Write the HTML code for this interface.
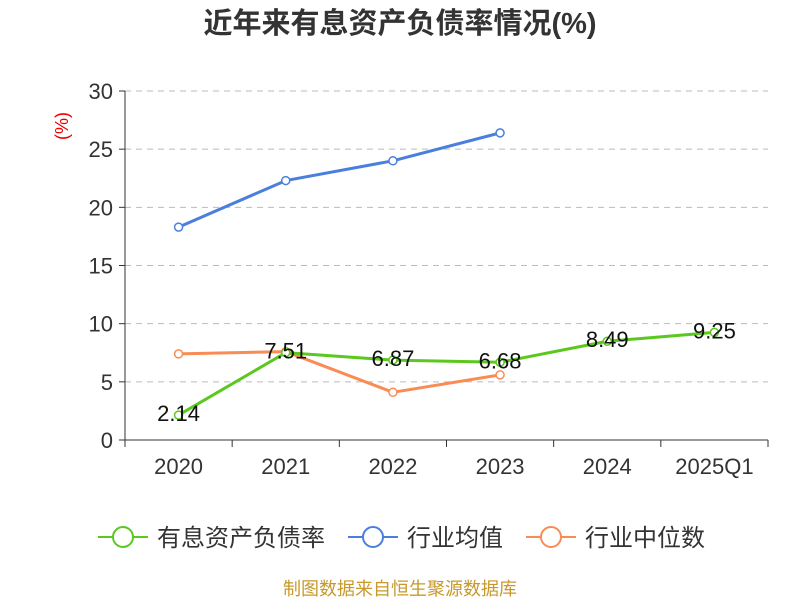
<!DOCTYPE html>
<html><head><meta charset="utf-8"><style>
body{margin:0;background:#fff;}
svg text{font-family:"Liberation Sans","Noto Sans CJK SC",sans-serif;}
</style></head><body>
<svg id="c" width="800" height="600"></svg>
<script>
const categories=["2020","2021","2022","2023","2024","2025Q1"];
const companyVals=[2.14,7.51,6.87,6.68,8.49,9.25];
const avgVals=[18.3,22.3,24.0,26.4];
const medianVals=[7.4,7.6,4.1,5.6];
const yTicks=[0,5,10,15,20,25,30];
const svg=document.getElementById('c');
const NS='http://www.w3.org/2000/svg';
const L=125,R=768,T=91,B=440,yMax=30;
const bw=(R-L)/categories.length;
const xs=i=>L+bw*(i+0.5);
const ys=v=>B-(v/yMax)*(B-T);
function mk(tag,attrs,parent){const e=document.createElementNS(NS,tag);for(const k in attrs)e.setAttribute(k,attrs[k]);(parent||svg).appendChild(e);return e;}
let t=mk('text',{x:400,y:33,'text-anchor':'middle','font-size':29,'font-weight':'bold',fill:'#333'});t.textContent='近年来有息资产负债率情况(%)';


t=mk('text',{x:68,y:126,'text-anchor':'middle','font-size':18,fill:'#e00',transform:'rotate(-90 68 126)'});t.textContent='(%)';


yTicks.forEach(v=>{
  const y=ys(v);
  if(v>0){const g=mk('line',{x1:L,x2:R,y1:y,y2:y,stroke:'#bbb','stroke-dasharray':'6,5'});
  
  }
  mk('line',{x1:L-6,x2:L,y1:y,y2:y,stroke:'#333'});
  const tx=mk('text',{x:L-12,y:y+8,'text-anchor':'end','font-size':22,fill:'#333'});tx.textContent=v;
  
  
});
mk('line',{x1:L,x2:L,y1:T,y2:B,stroke:'#333'});
mk('line',{x1:L,x2:R,y1:B,y2:B,stroke:'#333'});
for(let i=0;i<=categories.length;i++){mk('line',{x1:L+bw*i,x2:L+bw*i,y1:B,y2:B+7,stroke:'#333'});}
categories.forEach((c,i)=>{const tx=mk('text',{x:xs(i),y:474,'text-anchor':'middle','font-size':22,fill:'#333'});tx.textContent=c;

});
function series(vals,color,name,labels){
  const g=mk('g',{});
  
  
  mk('polyline',{points:vals.map((v,i)=>xs(i)+','+ys(v)).join(' '),fill:'none',stroke:color,'stroke-width':3,'stroke-linejoin':'round'},g);
  vals.forEach((v,i)=>{const p=mk('circle',{cx:xs(i),cy:ys(v),r:4,fill:'#fff',stroke:color,'stroke-width':1.5},g);
    
    
    if(labels){const tx=mk('text',{x:xs(i),y:ys(v)+6,'text-anchor':'middle','font-size':22,fill:'#111'},svg);tx.textContent=v.toFixed(2);
    
    }
  });
}
series(avgVals,'#4a7fde','series-industry-average',false);
series(medianVals,'#f98c55','series-industry-median',false);
series(companyVals,'#5ac81e','series-interest-debt-ratio',true);
const leg=[['有息资产负债率','#5ac81e',98],['行业均值','#4a7fde',348],['行业中位数','#f98c55',526]];
leg.forEach(([n,c,x])=>{const g=mk('g',{});
  
  
  mk('line',{x1:x,x2:x+50,y1:537,y2:537,stroke:c,'stroke-width':2},g);
  mk('circle',{cx:x+25,cy:537,r:10,fill:'#fff',stroke:c,'stroke-width':2},g);
  const tx=mk('text',{x:x+59,y:546,'font-size':24,fill:'#333'},g);tx.textContent=n;});
t=mk('text',{x:400,y:595,'text-anchor':'middle','font-size':18,fill:'#c8992a'});t.textContent='制图数据来自恒生聚源数据库';


</script>
</body></html>
